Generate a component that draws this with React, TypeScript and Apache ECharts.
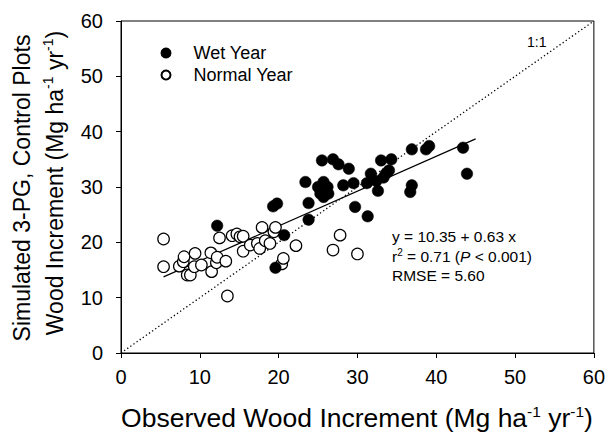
import React, { useEffect, useRef } from 'react';
import * as echarts from 'echarts';

const FONT = '"Liberation Sans", Arial, Helvetica, sans-serif';

// Observed (x) vs simulated (y) wood increment, Mg ha-1 yr-1
const wetYear: [number, number][] = [
  [12.2, 23.0], [19.3, 26.5], [19.8, 27.0], [19.6, 15.4], [20.7, 21.3],
  [23.4, 30.9], [23.8, 27.1], [23.8, 24.1], [25.5, 34.8], [26.9, 35.0],
  [27.6, 34.1], [28.9, 33.3], [25.7, 30.9], [25.0, 30.0], [26.2, 30.0],
  [25.3, 28.8], [26.3, 28.8], [25.7, 28.2], [28.2, 30.3], [29.5, 30.7],
  [29.7, 26.4], [31.3, 24.7], [31.2, 30.7], [31.7, 32.4], [32.4, 31.1],
  [32.6, 29.3], [33.0, 34.8], [34.3, 35.0], [33.3, 31.7], [33.6, 32.4],
  [34.0, 33.0], [36.9, 36.8], [38.7, 36.8], [39.1, 37.4], [36.9, 30.3],
  [36.7, 29.1], [43.4, 37.1], [43.9, 32.4],
];

const normalYear: [number, number][] = [
  [5.4, 20.6], [5.4, 15.6], [7.4, 15.7], [7.9, 16.5], [8.0, 17.4],
  [8.4, 14.1], [8.8, 14.1], [9.4, 18.0], [9.3, 15.6], [10.2, 15.9],
  [11.4, 18.1], [11.5, 14.7], [12.1, 16.3], [12.2, 17.3], [12.5, 20.8],
  [13.3, 16.6], [13.5, 10.3], [14.1, 21.2], [14.7, 21.5], [15.1, 21.0],
  [15.5, 21.1], [15.5, 18.4], [16.4, 19.5], [17.3, 19.8], [17.6, 18.9],
  [17.9, 22.7], [18.3, 20.3], [18.9, 19.8], [19.4, 21.9], [19.6, 22.7],
  [20.4, 16.1], [20.6, 17.1], [22.2, 19.4], [26.9, 18.6], [27.8, 21.3],
  [30.0, 17.9],
];

// Regression y = a + b x, drawn over the observed range
const fitIntercept = 10.35;
const fitSlope = 0.63;
const fitRange: [number, number] = [5.4, 45];
const fitR2 = 0.71;
const fitRmse = 5.6;

// Shared axis extent
const axisMin = 0;
const axisMax = 60;
const axisStep = 10;

const seriesNames = ['Wet Year', 'Normal Year'];

export default function App() {
  const ref = useRef<HTMLDivElement>(null);

  useEffect(() => {
    document.body.style.margin = '0';
    if (!ref.current) return;
    const chart = echarts.init(ref.current, null, { renderer: 'svg' });

    const fitLine = fitRange.map((x) => [x, fitIntercept + fitSlope * x]);
    const oneToOne = [
      [axisMin, axisMin],
      [axisMax, axisMax],
    ];

    const axisCommon = {
      min: axisMin,
      max: axisMax,
      interval: axisStep,
      axisLine: { show: true, lineStyle: { color: '#000', width: 1 } },
      axisTick: { show: true, inside: false, length: 5, lineStyle: { color: '#000' } },
      splitLine: { show: false },
    };

    const xTitleRich = {
      m: { fontSize: 26.5, fontFamily: FONT, fill: '#000', lineHeight: 30 },
      s: { fontSize: 15.5, fontFamily: FONT, fill: '#000', lineHeight: 15, verticalAlign: 'top' },
    };
    const yTitleRich = {
      m: { fontSize: 23, fontFamily: FONT, fill: '#000', lineHeight: 28 },
      s: { fontSize: 14, fontFamily: FONT, fill: '#000', lineHeight: 14, verticalAlign: 'top' },
    };
    const statRich = {
      t: { fontSize: 15.5, fontFamily: FONT, fill: '#000', lineHeight: 18 },
      s: { fontSize: 10, fontFamily: FONT, fill: '#000', lineHeight: 10, verticalAlign: 'top' },
      i: { fontSize: 15.5, fontFamily: FONT, fill: '#000', lineHeight: 18, fontStyle: 'italic' },
    };

    chart.setOption({
      animation: false,
      backgroundColor: '#fff',
      grid: {
        left: 121,
        right: 14,
        top: 21,
        bottom: 88,
        show: true,
        borderColor: '#000',
        borderWidth: 1,
      },
      xAxis: {
        type: 'value',
        ...axisCommon,
        axisLabel: { color: '#000', fontSize: 20, fontFamily: FONT, margin: 14 },
      },
      yAxis: {
        type: 'value',
        ...axisCommon,
        axisLabel: { color: '#000', fontSize: 20, fontFamily: FONT, margin: 18 },
      },
      legend: {
        data: seriesNames,
        orient: 'vertical',
        left: 155.5,
        top: 39,
        itemWidth: 9,
        itemHeight: 9,
        itemGap: 4,
        icon: 'circle',
        textStyle: { color: '#000', fontSize: 18, fontFamily: FONT, padding: [0, 0, 0, 18] },
      },
      series: [
        {
          name: '1:1',
          type: 'line',
          data: oneToOne,
          symbol: 'none',
          silent: true,
          lineStyle: { color: '#000', width: 1.3, type: [1.3, 2.5] },
          z: 1,
        },
        {
          name: 'fit',
          type: 'line',
          data: fitLine,
          symbol: 'none',
          silent: true,
          lineStyle: { color: '#000', width: 1.2 },
          z: 1,
        },
        {
          name: 'Normal Year',
          type: 'scatter',
          data: normalYear,
          symbol: 'circle',
          symbolSize: 11.5,
          itemStyle: { color: '#fff', borderColor: '#000', borderWidth: 1.2, opacity: 1 },
          z: 3,
        },
        {
          name: 'Wet Year',
          type: 'scatter',
          data: wetYear,
          symbol: 'circle',
          symbolSize: 11.5,
          itemStyle: { color: '#000', borderColor: '#000', borderWidth: 0.5, opacity: 1 },
          z: 4,
        },
      ],
      graphic: [
        {
          type: 'text',
          x: 357,
          y: 418,
          style: {
            text: '{m|Observed Wood Increment (Mg ha}{s|-1}{m| yr}{s|-1}{m|)}',
            rich: xTitleRich,
            align: 'center',
            verticalAlign: 'middle',
            fill: '#000',
          },
        },
        {
          type: 'text',
          x: 22,
          y: 188,
          rotation: Math.PI / 2,
          style: {
            text: '{m|Simulated 3-PG, Control Plots}',
            rich: yTitleRich,
            align: 'center',
            verticalAlign: 'middle',
            fill: '#000',
          },
        },
        {
          type: 'text',
          x: 55,
          y: 183,
          rotation: Math.PI / 2,
          style: {
            text: '{m|Wood Increment (Mg ha}{s|-1}{m| yr}{s|-1}{m|)}',
            rich: yTitleRich,
            align: 'center',
            verticalAlign: 'middle',
            fill: '#000',
          },
        },
        {
          type: 'text',
          x: 527,
          y: 42,
          style: {
            text: '1:1',
            fontSize: 14,
            fontFamily: FONT,
            fill: '#000',
            align: 'left',
            verticalAlign: 'middle',
          },
        },
        {
          type: 'text',
          x: 392,
          y: 236,
          style: {
            text: `{t|y = ${fitIntercept.toFixed(2)} + ${fitSlope.toFixed(2)} x}`,
            rich: statRich,
            align: 'left',
            verticalAlign: 'middle',
          },
        },
        {
          type: 'text',
          x: 392,
          y: 256,
          style: {
            text: `{t|r}{s|2}{t| = ${fitR2.toFixed(2)} (}{i|P}{t| < 0.001)}`,
            rich: statRich,
            align: 'left',
            verticalAlign: 'middle',
          },
        },
        {
          type: 'text',
          x: 392,
          y: 275,
          style: {
            text: `{t|RMSE = ${fitRmse.toFixed(2)}}`,
            rich: statRich,
            align: 'left',
            verticalAlign: 'middle',
          },
        },
      ],
    });

    return () => chart.dispose();
  }, []);

  return <div ref={ref} style={{ width: 608, height: 441 }} />;
}
